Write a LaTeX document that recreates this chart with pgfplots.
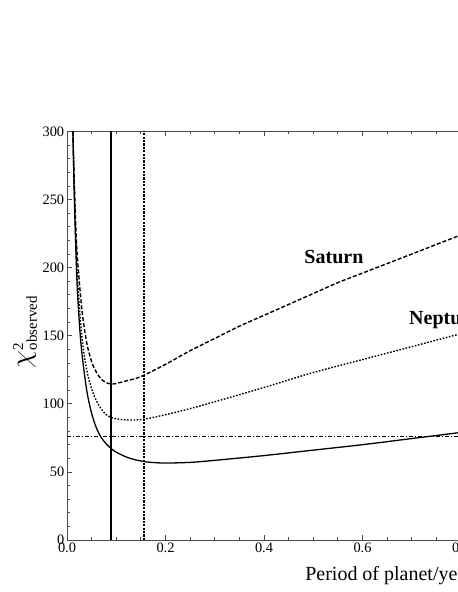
\documentclass[border=0pt]{standalone}
\usepackage{amsmath}
\usepackage{pgfplots}
\pgfplotsset{compat=1.18}
\usepackage{fontspec}
\setmainfont{Liberation Serif}

\begin{document}
\begin{tikzpicture}
\begin{scope}
\clip (-33.5pt,-26pt) rectangle (195.5pt,270pt);
\begin{axis}[
    at={(0,0)}, anchor=south west,
    scale only axis, width=246.25pt, height=204.25pt,
    xmin=0, xmax=1.0, ymin=0, ymax=300,
    xtick={0,0.2,0.4,0.6,0.8,1.0},
    ytick={0,50,100,150,200,250,300},
    minor x tick num=3, minor y tick num=4,
    tick align=inside,
    major tick length=2.5pt, minor tick length=1.5pt,
    every tick/.style={black!70, line width=0.4pt},
    axis line style={black!70, line width=0.5pt},
    tick label style={font=\fontsize{7.2}{8}\selectfont},
    /pgf/number format/assume math mode=true,
    xticklabel style={/pgf/number format/.cd, fixed, fixed zerofill, precision=1, /tikz/.cd, inner sep=1pt, yshift=-0.5pt},
    yticklabel style={inner sep=1.2pt},
    clip mode=individual,
]
% chi^2 curves
\addplot[black, line width=0.65pt, smooth] coordinates {
 (0.012,300) (0.015,250) (0.02,192) (0.025,160) (0.03,138) (0.04,110)
 (0.05,93) (0.06,82) (0.07,75) (0.08,70.5) (0.09,67) (0.10,64.5)
 (0.12,61) (0.14,58.8) (0.16,57.4) (0.18,56.8) (0.20,56.5) (0.25,57)
 (0.30,58.5) (0.40,62) (0.50,66) (0.60,70) (0.70,74.5) (0.80,79)
 (0.90,83.5) (1.0,88)};
\addplot[black, line width=0.7pt, dash pattern=on 2pt off 1pt, smooth] coordinates {
 (0.012,300) (0.015,260) (0.02,214) (0.03,170) (0.04,145) (0.05,131)
 (0.06,123) (0.07,118) (0.08,115.5) (0.09,114.5) (0.10,115) (0.12,116.8)
 (0.15,120) (0.20,129) (0.25,139) (0.30,148) (0.35,157) (0.40,165)
 (0.45,173) (0.50,181) (0.55,189) (0.60,196) (0.70,210) (0.80,224)
 (0.90,237) (1.0,250)};
\addplot[black, line width=0.7pt, dash pattern=on 0.8pt off 0.8pt, smooth] coordinates {
 (0.012,300) (0.015,255) (0.02,200) (0.03,150) (0.04,125) (0.05,111)
 (0.06,102) (0.07,96) (0.08,92) (0.09,90) (0.10,89) (0.12,88.2)
 (0.14,88.2) (0.16,89) (0.20,92) (0.25,96.5) (0.30,101.5) (0.40,112)
 (0.50,123) (0.60,132.5) (0.70,142) (0.80,151.5) (0.90,160.5) (1.0,169)};
% reference lines
\addplot[black, line width=1pt] coordinates {(0.0893,0) (0.0893,300)};
\addplot[black, line width=1pt, dash pattern=on 1.1pt off 0.6pt] coordinates {(0.157,0) (0.157,300)};
\addplot[black, line width=0.7pt, dash pattern=on 2pt off 1pt on 0.5pt off 1pt] coordinates {(0,76) (1.0,76)};
% labels
\node[font=\fontsize{10}{12}\selectfont\bfseries] at (axis cs:0.542,208) {Saturn};
\node[font=\fontsize{10}{12}\selectfont\bfseries, anchor=west, inner sep=0pt] at (axis cs:0.694,161.6) {Neptune};
\node[font=\fontsize{10}{12}\selectfont, anchor=base west, inner sep=0pt] at (axis cs:0.483,-29.4) {Period of planet/years};
\node[rotate=90, inner sep=0pt] at (rel axis cs:-0.085,0.51)
  {{\fontsize{13.5}{15}\selectfont$\chi$}$^{\text{\fontsize{7.5}{8}\selectfont 2}}_{\text{\fontsize{7.5}{8}\selectfont observed}}$};
\end{axis}
\end{scope}
\pgfresetboundingbox
\useasboundingbox (-33.5pt,-26pt) rectangle (195.5pt,270pt);
\end{tikzpicture}
\end{document}
